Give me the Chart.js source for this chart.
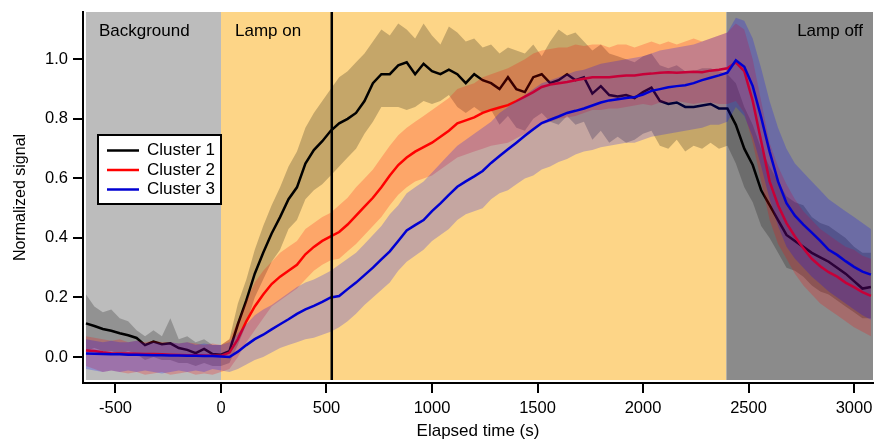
<!DOCTYPE html>
<html><head><meta charset="utf-8">
<script src="https://cdn.jsdelivr.net/npm/chart.js@4/dist/chart.umd.min.js"></script>
<style>html,body{margin:0;padding:0;background:#fff;}#wrap{width:875px;height:439px;}</style>
</head><body><div id="wrap"><canvas id="c" width="875" height="439"></canvas></div>
<script>
// ---- data ----
const time = [
  -640,-600,-560,-520,-480,-440,-400,-360,-320,-280,-240,-200,-160,-120,-80,-40,
  0,40,80,120,160,200,240,280,320,360,400,440,480,520,560,600,640,680,720,760,
  800,840,880,920,960,1000,1040,1080,1120,1160,1200,1240,1280,1320,1360,1400,1440,1480,1520,1560,
  1600,1640,1680,1720,1760,1800,1840,1880,1920,1960,2000,2040,2080,2120,2160,2200,2240,2280,2320,2360,
  2400,2440,2480,2520,2560,2600,2640,2680,2720,2760,2800,2840,2880,2920,2960,3000,3040,3080];

const cluster1 = [
  0.113,0.104,0.094,0.088,0.080,0.073,0.064,0.040,0.052,0.043,0.046,0.030,0.024,0.013,0.027,0.010,
  0.008,0.02,0.11,0.19,0.28,0.35,0.415,0.47,0.53,0.57,0.65,0.695,0.725,0.76,0.785,0.80,0.82,0.86,0.92,0.95,
  0.95,0.98,0.99,0.95,0.985,0.96,0.95,0.965,0.95,0.92,0.95,0.93,0.92,0.90,0.94,0.90,0.89,0.94,0.95,0.92,
  0.93,0.95,0.93,0.94,0.885,0.91,0.88,0.875,0.88,0.87,0.89,0.905,0.86,0.85,0.855,0.84,0.84,0.845,0.85,0.835,
  0.835,0.78,0.70,0.645,0.56,0.51,0.46,0.41,0.39,0.37,0.35,0.335,0.32,0.30,0.28,0.255,0.23,0.235];
const cluster1Upper = [
  0.21,0.17,0.15,0.16,0.13,0.12,0.09,0.07,0.09,0.07,0.13,0.06,0.07,0.05,0.06,0.04,
  0.04,0.06,0.18,0.26,0.36,0.44,0.51,0.57,0.64,0.69,0.77,0.82,0.86,0.90,0.94,0.96,0.99,1.02,1.06,1.10,
  1.08,1.12,1.10,1.07,1.12,1.08,1.05,1.11,1.09,1.06,1.07,1.04,1.05,1.02,1.04,1.03,1.02,1.05,1.01,1.06,
  1.10,1.08,1.09,1.06,1.03,1.05,1.02,1.01,1.00,0.99,1.01,1.02,0.98,0.97,0.98,0.96,0.96,0.97,0.97,0.96,
  0.95,0.92,0.84,0.78,0.70,0.64,0.59,0.54,0.52,0.51,0.47,0.45,0.44,0.42,0.40,0.37,0.35,0.35];
const cluster1Lower = [
  0.02,0.03,0.02,0.02,0.01,0.02,0.01,-0.01,0.00,-0.01,-0.01,-0.02,-0.02,-0.03,-0.02,-0.03,
  -0.03,-0.02,0.04,0.11,0.20,0.26,0.32,0.36,0.43,0.46,0.53,0.56,0.58,0.61,0.64,0.67,0.70,0.75,0.79,0.84,
  0.84,0.84,0.83,0.84,0.86,0.85,0.86,0.88,0.84,0.82,0.84,0.82,0.83,0.78,0.81,0.77,0.76,0.80,0.82,0.79,
  0.78,0.81,0.78,0.79,0.73,0.76,0.72,0.74,0.72,0.73,0.75,0.76,0.71,0.70,0.73,0.69,0.71,0.70,0.72,0.70,
  0.71,0.65,0.57,0.52,0.44,0.40,0.35,0.30,0.29,0.27,0.24,0.22,0.21,0.19,0.17,0.15,0.13,0.13];

const cluster2 = [
  0.022,0.020,0.016,0.013,0.012,0.012,0.011,0.010,0.010,0.009,0.008,0.007,0.006,0.006,0.005,0.004,
  0.004,0.015,0.06,0.12,0.17,0.21,0.245,0.27,0.29,0.31,0.345,0.37,0.39,0.405,0.42,0.445,0.475,0.505,0.535,0.57,
  0.61,0.645,0.67,0.69,0.705,0.72,0.74,0.76,0.785,0.795,0.805,0.82,0.83,0.838,0.846,0.86,0.875,0.89,0.907,0.915,
  0.92,0.924,0.93,0.935,0.94,0.94,0.94,0.943,0.946,0.946,0.95,0.952,0.955,0.957,0.955,0.957,0.958,0.957,0.962,0.965,
  0.97,0.99,0.96,0.86,0.725,0.59,0.51,0.45,0.405,0.365,0.33,0.305,0.285,0.27,0.25,0.235,0.218,0.205];
const cluster2Upper = [
  0.07,0.065,0.06,0.055,0.06,0.05,0.055,0.05,0.055,0.05,0.05,0.045,0.05,0.045,0.04,0.045,
  0.04,0.06,0.12,0.19,0.25,0.29,0.32,0.35,0.37,0.39,0.43,0.45,0.47,0.485,0.51,0.535,0.57,0.60,0.63,0.67,
  0.71,0.745,0.77,0.79,0.81,0.83,0.85,0.87,0.90,0.91,0.92,0.94,0.95,0.96,0.97,0.985,1.00,1.02,1.03,1.035,
  1.04,1.04,1.05,1.045,1.05,1.05,1.04,1.05,1.05,1.04,1.05,1.06,1.05,1.06,1.05,1.06,1.07,1.06,1.07,1.08,
  1.09,1.12,1.10,1.00,0.86,0.72,0.64,0.58,0.53,0.49,0.46,0.43,0.41,0.39,0.37,0.36,0.34,0.33];
const cluster2Lower = [
  -0.03,-0.04,-0.05,-0.045,-0.05,-0.055,-0.05,-0.06,-0.055,-0.05,-0.06,-0.055,-0.05,-0.06,-0.055,-0.06,
  -0.05,-0.04,0.00,0.05,0.09,0.13,0.17,0.19,0.21,0.23,0.26,0.29,0.31,0.325,0.33,0.355,0.38,0.41,0.44,0.47,
  0.51,0.545,0.57,0.59,0.60,0.61,0.63,0.65,0.67,0.68,0.69,0.70,0.71,0.715,0.72,0.735,0.75,0.76,0.78,0.79,
  0.80,0.805,0.81,0.82,0.83,0.83,0.835,0.835,0.84,0.845,0.85,0.845,0.855,0.855,0.86,0.855,0.85,0.855,0.855,0.85,
  0.85,0.86,0.82,0.72,0.59,0.46,0.38,0.33,0.28,0.24,0.21,0.18,0.16,0.14,0.12,0.10,0.085,0.07];

const cluster3 = [
  0.012,0.011,0.010,0.009,0.009,0.008,0.008,0.007,0.006,0.006,0.005,0.005,0.004,0.004,0.003,0.003,
  0.002,0.000,0.018,0.04,0.06,0.075,0.093,0.11,0.127,0.145,0.16,0.172,0.185,0.20,0.205,0.228,0.25,0.275,0.30,0.328,
  0.355,0.39,0.425,0.443,0.46,0.49,0.516,0.545,0.572,0.59,0.607,0.625,0.652,0.675,0.698,0.72,0.743,0.765,0.786,0.797,
  0.808,0.82,0.827,0.835,0.845,0.855,0.862,0.866,0.87,0.873,0.882,0.894,0.90,0.906,0.91,0.913,0.92,0.93,0.938,0.946,
  0.955,0.997,0.975,0.91,0.805,0.69,0.59,0.517,0.475,0.445,0.418,0.39,0.36,0.343,0.322,0.303,0.287,0.277];
const cluster3Upper = [
  0.06,0.055,0.05,0.055,0.05,0.05,0.055,0.045,0.05,0.045,0.05,0.045,0.05,0.04,0.045,0.04,
  0.04,0.05,0.08,0.11,0.14,0.16,0.175,0.195,0.215,0.235,0.25,0.26,0.275,0.29,0.31,0.33,0.35,0.38,0.41,0.44,
  0.48,0.51,0.55,0.57,0.59,0.62,0.65,0.68,0.71,0.73,0.75,0.77,0.79,0.82,0.84,0.86,0.88,0.90,0.92,0.93,
  0.94,0.95,0.96,0.965,0.975,0.985,0.99,0.995,1.00,1.005,1.01,1.02,1.03,1.035,1.04,1.045,1.05,1.06,1.07,1.08,
  1.09,1.14,1.13,1.07,0.97,0.86,0.77,0.70,0.65,0.62,0.59,0.56,0.53,0.51,0.49,0.47,0.45,0.43];
const cluster3Lower = [
  -0.04,-0.045,-0.05,-0.045,-0.05,-0.045,-0.05,-0.045,-0.05,-0.055,-0.05,-0.045,-0.05,-0.045,-0.05,-0.04,
  -0.045,-0.05,-0.04,-0.025,-0.01,0.00,0.015,0.03,0.04,0.05,0.06,0.065,0.075,0.085,0.10,0.12,0.145,0.175,0.20,0.225,
  0.25,0.29,0.32,0.34,0.36,0.39,0.41,0.43,0.46,0.48,0.49,0.50,0.53,0.55,0.56,0.58,0.60,0.61,0.63,0.64,
  0.655,0.665,0.68,0.69,0.695,0.705,0.71,0.715,0.72,0.72,0.73,0.74,0.745,0.75,0.755,0.76,0.765,0.77,0.78,0.78,
  0.79,0.84,0.81,0.74,0.64,0.53,0.44,0.37,0.33,0.30,0.27,0.245,0.22,0.20,0.18,0.16,0.14,0.125];

const seriesNames = ['Cluster 1', 'Cluster 2', 'Cluster 3'];
const phaseNames = ['Background', 'Lamp on', 'Lamp off'];
const phaseStart = [-640, 0, 2395];
const phaseEnd = [0, 2395, 3090];
const markerTime = 525;
const xTickValues = [-500, 0, 500, 1000, 1500, 2000, 2500, 3000];
const yTickValues = [0, 0.2, 0.4, 0.6, 0.8, 1.0];

// ---- styles ----
const FONT = '"Liberation Sans", Arial, sans-serif';
const lineColors = ['#000000', '#ff0000', '#0000d2'];
const bandColors = ['rgba(0,0,0,0.22)', 'rgba(255,0,0,0.22)', 'rgba(0,0,255,0.22)'];
const phaseColors = ['#bcbcbc', '#fdd587', '#8b8b8b'];

const pts = arr => time.map((t, i) => ({x: t, y: arr[i]}));
const means = [cluster1, cluster2, cluster3];
const uppers = [cluster1Upper, cluster2Upper, cluster3Upper];
const lowers = [cluster1Lower, cluster2Lower, cluster3Lower];

const datasets = [];
means.forEach((m, k) => {
  const base = datasets.length;
  const ord = 100 - k * 10;
  datasets.push({label: seriesNames[k] + ' upper', data: pts(uppers[k]), borderWidth: 0, borderColor: 'rgba(0,0,0,0)',
    pointRadius: 0, fill: base + 1, backgroundColor: bandColors[k], order: ord, isBand: true});
  datasets.push({label: seriesNames[k] + ' lower', data: pts(lowers[k]), borderWidth: 0, borderColor: 'rgba(0,0,0,0)',
    pointRadius: 0, fill: false, order: ord - 1, isBand: true});
  datasets.push({label: seriesNames[k], data: pts(m), borderColor: lineColors[k], borderWidth: 2.5,
    pointRadius: 0, fill: false, order: ord - 2, tension: 0});
});

const decor = {
  id: 'decor',
  beforeDatasetsDraw(chart) {
    const {ctx, chartArea: a, scales: {x}} = chart;
    const bottom = a.bottom - 3;
    ctx.save();
    phaseStart.forEach((s, i) => {
      const x0 = x.getPixelForValue(s);
      const x1 = Math.min(a.right, x.getPixelForValue(phaseEnd[i]));
      ctx.fillStyle = phaseColors[i];
      ctx.fillRect(x0, a.top, x1 - x0, bottom - a.top);
    });
    ctx.fillStyle = '#000';
    ctx.font = '17px ' + FONT;
    ctx.textBaseline = 'middle';
    ctx.textAlign = 'left';
    ctx.fillText(phaseNames[0], x.getPixelForValue(phaseStart[0]) + 13, a.top + 19);
    ctx.fillText(phaseNames[1], x.getPixelForValue(phaseStart[1]) + 14, a.top + 19);
    ctx.textAlign = 'right';
    ctx.fillText(phaseNames[2], a.right - 10, a.top + 19);
    ctx.restore();
  },
  afterDatasetsDraw(chart) {
    const {ctx, chartArea: a, scales: {x}} = chart;
    ctx.save();
    const mx = x.getPixelForValue(markerTime);
    ctx.strokeStyle = '#000';
    ctx.lineWidth = 2.5;
    ctx.beginPath();
    ctx.moveTo(mx, a.top);
    ctx.lineTo(mx, a.bottom - 3);
    ctx.stroke();
    const lx = a.left + 15, ly = a.top + 123, lw = 123, lh = 69;
    ctx.fillStyle = '#fff';
    ctx.fillRect(lx, ly, lw, lh);
    ctx.lineWidth = 2;
    ctx.strokeStyle = '#000';
    ctx.strokeRect(lx, ly, lw, lh);
    ctx.font = '17px ' + FONT;
    ctx.textBaseline = 'middle';
    ctx.textAlign = 'left';
    chart.data.datasets.filter(d => !d.isBand).forEach((d, i) => {
      const yy = ly + 15.5 + i * 19.5;
      ctx.strokeStyle = d.borderColor;
      ctx.lineWidth = 2.5;
      ctx.beginPath();
      ctx.moveTo(lx + 9, yy);
      ctx.lineTo(lx + 41, yy);
      ctx.stroke();
      ctx.fillStyle = '#000';
      ctx.fillText(d.label, lx + 49, yy);
    });
    ctx.restore();
  }
};

new Chart(document.getElementById('c'), {
  type: 'line',
  data: {datasets},
  options: {
    responsive: false,
    animation: false,
    events: [],
    layout: {padding: {top: 12, right: 2, left: 0, bottom: 0}},
    plugins: {legend: {display: false}, tooltip: {enabled: false}, filler: {propagate: false}},
    scales: {
      x: {
        type: 'linear', min: -654, max: 3090,
        afterFit: s => { s.height = 56; s.paddingLeft = 0; s.paddingRight = 0; },
        afterBuildTicks: s => { s.ticks = xTickValues.map(v => ({value: v})); },
        grid: {drawOnChartArea: false, drawTicks: true, tickLength: 10, tickColor: '#000', lineWidth: 2},
        border: {display: true, color: '#000', width: 2},
        ticks: {color: '#000', font: {family: FONT, size: 16.5}, padding: 6, maxRotation: 0,
          callback: v => String(v)},
        title: {display: true, text: 'Elapsed time (s)', color: '#000', font: {family: FONT, size: 17},
          padding: {top: 0, bottom: -3}}
      },
      y: {
        type: 'linear', min: -0.0873, max: 1.159,
        afterFit: s => { s.width = 83; s.paddingTop = 0; s.paddingBottom = 0; },
        afterBuildTicks: s => { s.ticks = yTickValues.map(v => ({value: v})); },
        grid: {drawOnChartArea: false, drawTicks: true, tickLength: 10, tickColor: '#000', lineWidth: 2},
        border: {display: true, color: '#000', width: 2},
        ticks: {color: '#000', font: {family: FONT, size: 16.5}, padding: 5,
          callback: v => Number(v).toFixed(1)},
        title: {display: true, text: 'Normalized signal', color: '#000', font: {family: FONT, size: 16},
          padding: {top: 11, bottom: 0}}
      }
    }
  },
  plugins: [decor]
});
</script>
</body></html>
